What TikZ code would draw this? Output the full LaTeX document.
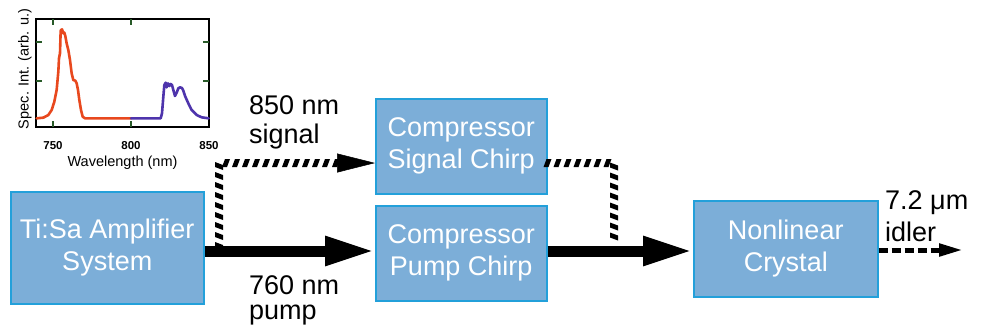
\documentclass[tikz,border=0pt]{standalone}
\usepackage{fontspec}
\setmainfont{Liberation Sans}
\usetikzlibrary{arrows.meta,decorations.markings}
\definecolor{boxfill}{RGB}{124,174,216}
\definecolor{boxline}{RGB}{35,160,218}
\definecolor{specred}{RGB}{232,72,30}
\definecolor{specblue}{RGB}{78,52,172}
\definecolor{tickgreen}{RGB}{40,90,40}
\tikzset{
  blk/.style={draw=boxline, line width=1.5pt, fill=boxfill, text=white,
    font=\fontsize{27}{32}\selectfont, align=center, inner sep=0pt, anchor=north west},
  lbl/.style={font=\fontsize{27}{30}\selectfont, align=left, inner sep=0pt, anchor=north west},
  thickarrow/.style={line width=11pt, -{Triangle[length=50pt,width=27pt]}},
  hatched/.style={decoration={markings, mark=between positions 0 and 1 step 10pt with
      {\fill (-4pt,-4pt) -- (1pt,-4pt) -- (4pt,4pt) -- (-1pt,4pt) -- cycle;}},
    postaction=decorate},
  sighead/.style={line width=0.5pt, -{Triangle[length=38pt,width=19pt]}},
  idlerarrow/.style={line width=5pt, dash pattern=on 9pt off 4pt, -{Triangle[length=24pt,width=12pt]}},
  plotframe/.style={line width=1.5pt},
  tickmark/.style={line width=1.5pt, draw=tickgreen},
  spec/.style={line width=2.6pt, line join=round, line cap=round},
  ticklbl/.style={font=\fontsize{11.5}{12}\selectfont\bfseries, inner sep=0pt},
  axlbl/.style={font=\fontsize{14.5}{16}\selectfont, inner sep=0pt}
}
\begin{document}
\begin{tikzpicture}[x=1pt,y=-1pt]
\useasboundingbox[fill=white] (0,0) rectangle (981,330);
% inset plot
\draw[plotframe] (36,19) rectangle (209,127);
\foreach \yy in {42,81,118}{
  \draw[tickmark] (36,\yy) -- (42,\yy);
  \draw[tickmark] (209,\yy) -- (203,\yy);
}
\foreach \xx in {53,131}{
  \draw[tickmark] (\xx,19) -- (\xx,25);
  \draw[tickmark] (\xx,127) -- (\xx,121);
}
\begin{scope}[xscale=1/3,yscale=1/3]
\draw[spec,specred] (110,355) -- (130,353) -- (145,345) -- (155,330) -- (163,305) -- (170,270) -- (175,215) -- (177,175) -- (180,160) -- (182,92) -- (186,88) -- (190,100) -- (193,98) -- (196,108) -- (200,130) -- (205,150) -- (210,180) -- (215,220) -- (220,240) -- (226,242) -- (230,250) -- (234,270) -- (238,300) -- (243,330) -- (248,350) -- (255,355) -- (393,355);
\draw[spec,specblue] (393,355) -- (482,355) -- (486,340) -- (490,290) -- (493,255) -- (497,248) -- (500,262) -- (504,250) -- (508,258) -- (512,252) -- (516,255) -- (520,270) -- (525,288) -- (530,278) -- (535,265) -- (540,262) -- (546,264) -- (550,272) -- (556,290) -- (565,310) -- (575,330) -- (590,345) -- (605,352) -- (626,355);
\end{scope}
\node[ticklbl] (t750) at (53,146) {750};
\node[ticklbl] (t800) at (131,146) {800};
\node[ticklbl] (t850) at (209,146) {850};
\node[axlbl] (xl) at (122.5,163) {Wavelength (nm)};
\node[axlbl, rotate=90] (yl) at (25,69) {Spec. Int. (arb. u.)};
% boxes
\node[blk, minimum width=193pt, minimum height=112pt] (tisa) at (10,191) {Ti:Sa Amplifier\\System};
\node[blk, minimum width=171pt, minimum height=95pt] (sig) at (375,98) {Compressor\\Signal Chirp};
\node[blk, minimum width=171pt, minimum height=95pt] (pump) at (375,205) {Compressor\\Pump Chirp};
\node[blk, minimum width=184pt, minimum height=96pt] (nl) at (693,200) {Nonlinear\\Crystal};
% coordinates
\coordinate (pl) at (0,251);
\coordinate (split) at (219,246);
\coordinate (sigtip) at (337,163);
\coordinate (merge) at (614,246);
\coordinate (idlerend) at (963,250);
% connectors
\path[hatched] (split) |- (sigtip);
\draw[sighead] (sigtip) -- (sig.west |- sigtip);
\path[hatched] (sig.east |- sigtip) -| (merge);
\draw[thickarrow] (tisa.east |- pl) -- (pump.west |- pl);
\draw[thickarrow] (pump.east |- pl) -- (nl.west |- pl);
\draw[idlerarrow] (nl.east |- idlerend) -- (idlerend);
% labels
\node[lbl, font=\fontsize{27}{29}\selectfont] (siglbl) at (249,95) {850 nm\\signal};
\node[lbl, font=\fontsize{27}{25}\selectfont] (pumplbl) at (249,275) {760 nm\\pump};
\node[lbl, font=\fontsize{27}{32}\selectfont] (idllbl) at (885,190) {7.2 μm\\idler};
\end{tikzpicture}
\end{document}
